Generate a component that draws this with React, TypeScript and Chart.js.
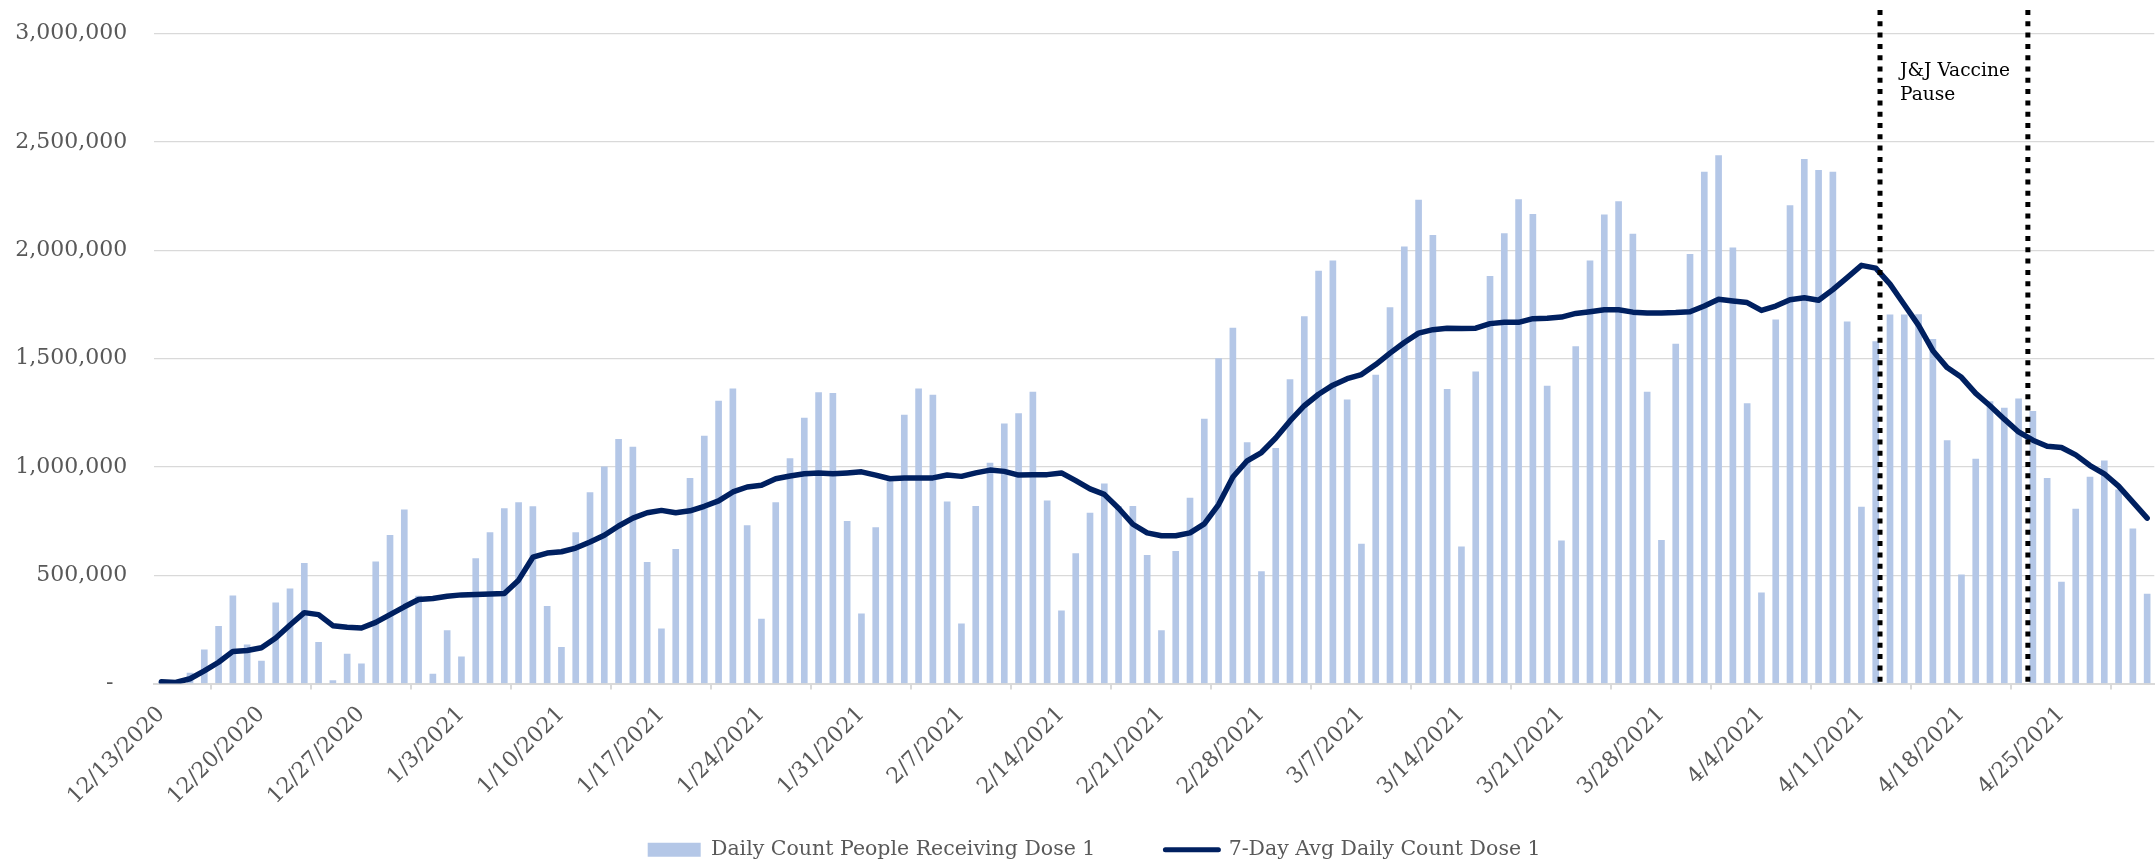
import React, { useEffect, useRef } from "react";
import { Chart, registerables } from "chart.js";

Chart.register(...registerables);

// ---------- data ----------
const startDate = [2020, 11, 13]; // 12/13/2020 (month is 0-based)
const dayCount = 140;

const weeklyTickLabels = [
  "12/13/2020", "12/20/2020", "12/27/2020", "1/3/2021", "1/10/2021",
  "1/17/2021", "1/24/2021", "1/31/2021", "2/7/2021", "2/14/2021",
  "2/21/2021", "2/28/2021", "3/7/2021", "3/14/2021", "3/21/2021",
  "3/28/2021", "4/4/2021", "4/11/2021", "4/18/2021", "4/25/2021",
];

const dailyDose1 = [
  8000, 3000, 48000, 155000, 264000, 405000, 178000,
  103000, 372000, 437000, 555000, 190000, 14000, 136000,
  91000, 561000, 684000, 801000, 403000, 44000, 244000,
  123000, 576000, 697000, 807000, 835000, 816000, 356000,
  167000, 697000, 881000, 1000000, 1127000, 1091000, 559000,
  252000, 619000, 947000, 1142000, 1303000, 1360000, 729000,
  297000, 835000, 1038000, 1225000, 1343000, 1339000, 748000,
  322000, 720000, 932000, 1239000, 1360000, 1331000, 839000,
  275000, 818000, 1017000, 1199000, 1246000, 1345000, 843000,
  335000, 600000, 786000, 922000, 816000, 818000, 591000,
  244000, 610000, 856000, 1220000, 1500000, 1640000, 1112000,
  517000, 1085000, 1403000, 1693000, 1903000, 1951000, 1309000,
  644000, 1424000, 1735000, 2015000, 2231000, 2068000, 1358000,
  631000, 1439000, 1879000, 2076000, 2233000, 2165000, 1373000,
  659000, 1555000, 1951000, 2163000, 2224000, 2074000, 1345000,
  661000, 1566000, 1981000, 2360000, 2436000, 2011000, 1292000,
  419000, 1678000, 2206000, 2419000, 2369000, 2360000, 1669000,
  814000, 1578000, 1701000, 1701000, 1703000, 1589000, 1121000,
  502000, 1036000, 1301000, 1271000, 1314000, 1256000, 947000,
  468000, 805000, 953000, 1028000, 894000, 714000, 413000,
];

const sevenDayAvg = [
  8000, 5000, 22000, 58000, 98000, 148000, 152000,
  165000, 210000, 270000, 327000, 318000, 267000, 260000,
  256000, 282000, 318000, 354000, 388000, 392000, 403000,
  409000, 411000, 413000, 415000, 477000, 583000, 602000,
  608000, 625000, 653000, 684000, 727000, 763000, 788000,
  799000, 788000, 797000, 818000, 843000, 884000, 907000,
  915000, 945000, 958000, 968000, 972000, 968000, 972000,
  977000, 962000, 945000, 949000, 949000, 949000, 962000,
  956000, 972000, 985000, 979000, 962000, 964000, 964000,
  972000, 936000, 898000, 873000, 809000, 735000, 695000,
  682000, 682000, 695000, 737000, 826000, 953000, 1028000,
  1066000, 1133000, 1212000, 1282000, 1335000, 1377000, 1407000,
  1426000, 1472000, 1525000, 1574000, 1617000, 1633000, 1640000,
  1638000, 1640000, 1661000, 1667000, 1667000, 1684000, 1686000,
  1691000, 1708000, 1716000, 1725000, 1725000, 1714000, 1710000,
  1710000, 1712000, 1716000, 1742000, 1773000, 1765000, 1758000,
  1722000, 1742000, 1771000, 1780000, 1769000, 1818000, 1873000,
  1930000, 1917000, 1843000, 1748000, 1653000, 1536000, 1458000,
  1413000, 1339000, 1282000, 1220000, 1161000, 1123000, 1095000,
  1089000, 1055000, 1006000, 968000, 911000, 837000, 763000,
];

const seriesNames = ["Daily Count People Receiving Dose 1", "7-Day Avg Daily Count Dose 1"];
const pauseStartIndex = 120.3; // 4/12/2021 .. 4/13/2021
const pauseEndIndex = 130.65; // 4/22/2021 .. 4/23/2021
const pauseText = ["J&J Vaccine", "Pause"];

// ---------- style ----------
const FONT = '"DejaVu Serif", "Liberation Serif", serif';
const TEXT_GREY = "#595959";
const GRID_GREY = "#d9d9d9";
const BAR_BLUE = "#b4c7e7";
const LINE_NAVY = "#002060";

const categories: string[] = [];
for (let i = 0; i < dayCount; i++) {
  const d = new Date(startDate[0], startDate[1], startDate[2] + i);
  categories.push(`${d.getMonth() + 1}/${d.getDate()}/${d.getFullYear()}`);
}

const pausePlugin = {
  id: "pausePlugin",
  afterDatasetsDraw(chart: any) {
    const { ctx, scales } = chart;
    const x = scales.x;
    const y = scales.y;
    ctx.save();
    ctx.strokeStyle = "#000000";
    ctx.lineWidth = 5;
    ctx.lineCap = "butt";
    ctx.setLineDash([5, 6.3]);
    [pauseStartIndex, pauseEndIndex].forEach((v) => {
      const px = x.getPixelForValue(v);
      ctx.beginPath();
      ctx.moveTo(px, 10);
      ctx.lineTo(px, y.getPixelForValue(0));
      ctx.stroke();
    });
    ctx.setLineDash([]);
    ctx.fillStyle = "#000000";
    ctx.font = `18.6px ${FONT}`;
    ctx.textAlign = "left";
    ctx.textBaseline = "alphabetic";
    const tx = x.getPixelForValue(pauseStartIndex) + 20;
    ctx.fillText(pauseText[0], tx, 76);
    ctx.fillText(pauseText[1], tx, 100);
    ctx.restore();
  },
};

const layoutTweakPlugin = {
  id: "layoutTweak",
  afterLayout(chart: any) {
    const l = chart.legend;
    if (l) {
      l.top += 6;
      l.bottom += 6;
      l.left += 17;
      l.right += 17;
    }
    // let the rotated date labels run below the axis box without being clipped
    if (chart.scales.x) chart.scales.x.bottom = chart.height;
  },
};

export default function App() {
  const canvasRef = useRef<HTMLCanvasElement | null>(null);

  useEffect(() => {
    if (!canvasRef.current) return;
    Chart.defaults.font.family = FONT;
    const chart = new Chart(canvasRef.current, {
      type: "bar",
      data: {
        labels: categories,
        datasets: [
          {
            type: "bar",
            label: seriesNames[0],
            data: dailyDose1,
            backgroundColor: BAR_BLUE,
            borderWidth: 0,
            barThickness: 6,
            order: 1,
          },
          {
            type: "line",
            label: seriesNames[1],
            data: sevenDayAvg,
            borderColor: LINE_NAVY,
            backgroundColor: LINE_NAVY,
            borderWidth: 5.5,
            pointRadius: 0,
            tension: 0,
            borderCapStyle: "round",
            borderJoinStyle: "round",
            order: 0,
          } as any,
        ],
      },
      options: {
        responsive: false,
        animation: false,
        devicePixelRatio: 1,
        layout: { padding: { top: 33.5, right: 1.7, left: 0, bottom: 0 } },
        plugins: {
          tooltip: { enabled: false },
          legend: {
            position: "bottom",
            labels: {
              color: TEXT_GREY,
              font: { size: 20.5, family: FONT },
              usePointStyle: true,
              pointStyleWidth: 53,
              boxHeight: 14,
              padding: 70,
              sort: (a: any, b: any) => a.datasetIndex - b.datasetIndex,
              generateLabels: (ch: any) => {
                const items = (Chart.defaults.plugins.legend.labels as any).generateLabels(ch);
                return items.map((it: any) =>
                  it.datasetIndex === 0
                    ? { ...it, pointStyle: "rect", fillStyle: BAR_BLUE, strokeStyle: BAR_BLUE, lineWidth: 0 }
                    : { ...it, pointStyle: "line", fillStyle: LINE_NAVY, strokeStyle: LINE_NAVY, lineWidth: 5, lineCap: "round" }
                );
              },
            },
          },
        },
        scales: {
          x: {
            offset: true,
            grid: {
              offset: true,
              drawOnChartArea: false,
              drawTicks: true,
              tickLength: 6,
              color: GRID_GREY,
              lineWidth: 2,
            },
            border: { color: GRID_GREY, width: 2 },
            ticks: {
              autoSkip: false,
              maxRotation: 45,
              minRotation: 45,
              padding: 12,
              color: TEXT_GREY,
              font: { size: 22, family: FONT },
              callback: (_v: any, idx: number) =>
                idx % 7 === 0 && weeklyTickLabels[idx / 7] ? weeklyTickLabels[idx / 7] : null,
            },
            afterFit: (s: any) => {
              s.height = 80;
            },
          },
          y: {
            min: 0,
            max: 3000000,
            ticks: {
              stepSize: 500000,
              padding: 4,
              color: TEXT_GREY,
              font: { size: 22, family: FONT },
              callback: (v: any) => (Number(v) === 0 ? "-  " : Number(v).toLocaleString("en-US")),
            },
            grid: {
              color: GRID_GREY,
              lineWidth: 1.3,
              drawTicks: true,
              tickLength: 23,
              tickColor: "rgba(0,0,0,0)",
            },
            border: { display: false },
            afterFit: (s: any) => {
              s.width = 154.3;
            },
          },
        },
      },
      plugins: [pausePlugin, layoutTweakPlugin],
    });
    return () => chart.destroy();
  }, []);

  return (
    <div style={{ position: "absolute", left: 0, top: 0, width: 2156, height: 864, background: "#ffffff" }}>
      <canvas ref={canvasRef} width={2156} height={864} style={{ display: "block", width: 2156, height: 864 }} />
    </div>
  );
}
